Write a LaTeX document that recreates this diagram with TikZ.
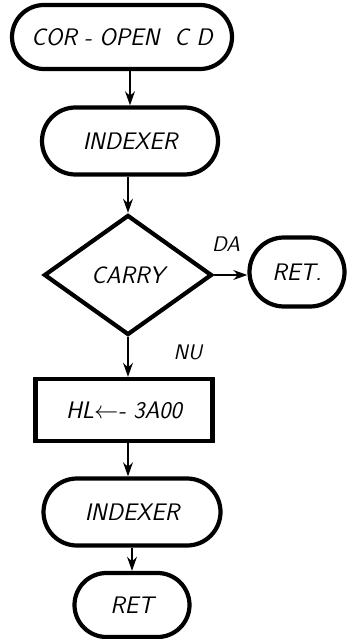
\documentclass[tikz,border=0pt]{standalone}
\usepackage{xcolor}
\usepackage{tikz}
\usetikzlibrary{shapes.misc,shapes.geometric,arrows,arrows.meta,positioning,calc}

\begin{document}
\begin{tikzpicture}[
  terminal/.style={rounded rectangle, draw=black, line width=3pt, minimum height=1.6cm, inner xsep=0pt, font=\fontsize{17}{20}\selectfont\sffamily\itshape},
  proses/.style={rectangle, draw=black, line width=3pt, minimum height=1.55cm, font=\fontsize{17}{20}\selectfont\sffamily\itshape},
  keputusan/.style={diamond, draw=black, line width=3pt, aspect=1.4, minimum width=4.2cm, minimum height=3cm, inner sep=0pt, font=\fontsize{17}{20}\selectfont\sffamily\itshape},
  eticheta/.style={font=\fontsize{15}{17}\selectfont\sffamily\itshape},
  arrow/.style={-{Stealth[length=10pt,width=7pt]}, line width=1.5pt}
]
  \useasboundingbox (0,0) rectangle (8.65,-15.975);
  \node[terminal, minimum width=5.5cm] (start) at (3.05,-0.925) {COR - OPEN \ C D};
  \node[terminal, minimum width=4.4cm, minimum height=1.675cm] (idx1) at (3.25,-3.525) {INDEXER};
  \node[keputusan] (carry) at (3.2,-6.875) {CARRY};
  \node[terminal, minimum width=2.375cm, minimum height=1.725cm] (ret1) at (7.425,-6.8) {RET.};
  \node[proses, minimum width=4.425cm] (hl) at (3.1,-10.25) {HL$\leftarrow$- 3A00};
  \node[terminal, minimum width=4.425cm, minimum height=1.675cm] (idx2) at (3.3,-12.8) {INDEXER};
  \node[terminal, minimum width=2.875cm] (ret2) at (3.3,-15.125) {RET};
  \node[eticheta] (da) at (5.65,-6.1) {DA};
  \node[eticheta] (nu) at (4.7,-8.8) {NU};
  \draw[arrow] (idx1.north |- start.south) -- (idx1.north);
  \draw[arrow] (carry.north |- idx1.south) -- (carry.north);
  \draw[arrow] (carry.east) -- (carry.east -| ret1.west);
  \draw[arrow] (carry.south) -- (carry.south |- hl.north);
  \draw[arrow] (hl.south -| carry.south) -- (carry.south |- idx2.north);
  \draw[arrow] (ret2.north |- idx2.south) -- (ret2.north);
\end{tikzpicture}
\end{document}
